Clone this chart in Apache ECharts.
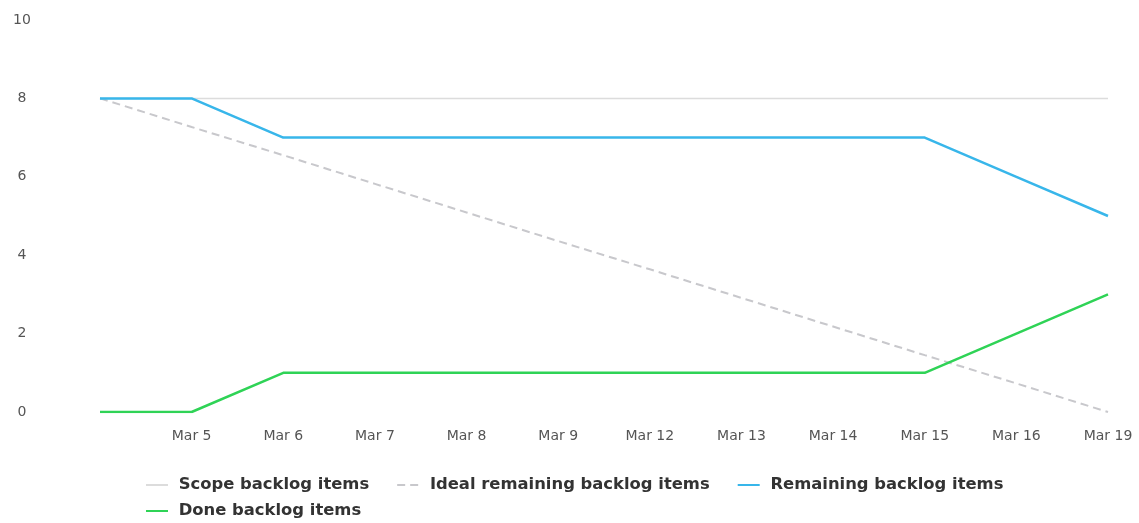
<!DOCTYPE html>
<html>
<head>
<meta charset="utf-8">
<script src="https://cdn.jsdelivr.net/npm/echarts@6/dist/echarts.min.js"></script>
<style>
  html, body { margin: 0; padding: 0; background: #fff; }
  #chart { width: 1139px; height: 523px; }
</style>
</head>
<body>
<div id="chart"></div>
<script>
// Sprint burndown: dates of the sprint (first day has no label)
const days = ['', 'Mar 5', 'Mar 6', 'Mar 7', 'Mar 8', 'Mar 9', 'Mar 12', 'Mar 13', 'Mar 14', 'Mar 15', 'Mar 16', 'Mar 19'];
const scopeItems = [8, 8, 8, 8, 8, 8, 8, 8, 8, 8, 8, 8];
const idealRemaining = [8, 7.27, 6.55, 5.82, 5.09, 4.36, 3.64, 2.91, 2.18, 1.45, 0.73, 0];
const remainingItems = [8, 8, 7, 7, 7, 7, 7, 7, 7, 7, 6, 5];
const doneItems = [0, 0, 1, 1, 1, 1, 1, 1, 1, 1, 2, 3];

const seriesNames = ['Scope backlog items', 'Ideal remaining backlog items', 'Remaining backlog items', 'Done backlog items'];

const font = '"DejaVu Sans", Verdana, sans-serif';

const legendBase = {
  left: 140,
  itemWidth: 22,
  itemHeight: 14,
  itemGap: 27,
  itemStyle: { opacity: 0 },
  formatter: name => ' ' + name,
  textStyle: { fontFamily: font, fontSize: 16.4, fontWeight: 'bold', color: '#333' }
};

const chart = echarts.init(document.getElementById('chart'), null, { renderer: 'canvas' });
chart.setOption({
  animation: false,
  backgroundColor: '#fff',
  grid: { left: 100, right: 31, top: 20, bottom: 111, containLabel: false },
  legend: [
    Object.assign({}, legendBase, { top: 472, data: seriesNames.slice(0, 3) }),
    Object.assign({}, legendBase, { top: 498, data: seriesNames.slice(3) })
  ],
  xAxis: {
    type: 'category',
    data: days,
    boundaryGap: false,
    axisLine: { show: false },
    axisTick: { show: false },
    axisLabel: { fontFamily: font, fontSize: 14, color: '#555', margin: 17 }
  },
  yAxis: {
    type: 'value',
    min: 0,
    max: 10,
    interval: 2,
    axisLine: { show: false },
    axisTick: { show: false },
    splitLine: { show: false },
    axisLabel: { fontFamily: font, fontSize: 14, color: '#555', align: 'center', margin: 78 }
  },
  series: [
    {
      name: seriesNames[0], type: 'line', data: scopeItems,
      symbol: 'none', color: '#dcdcdc',
      lineStyle: { color: '#dcdcdc', width: 1.5 }
    },
    {
      name: seriesNames[1], type: 'line', data: idealRemaining,
      symbol: 'none', color: '#c8c8cc',
      lineStyle: { color: '#c8c8cc', width: 2, type: [8, 5] }
    },
    {
      name: seriesNames[2], type: 'line', data: remainingItems,
      symbol: 'none', color: '#38b6ea',
      lineStyle: { color: '#38b6ea', width: 2.5 }
    },
    {
      name: seriesNames[3], type: 'line', data: doneItems,
      symbol: 'none', color: '#2fd356',
      lineStyle: { color: '#2fd356', width: 2.5 }
    }
  ]
});
</script>
</body>
</html>
